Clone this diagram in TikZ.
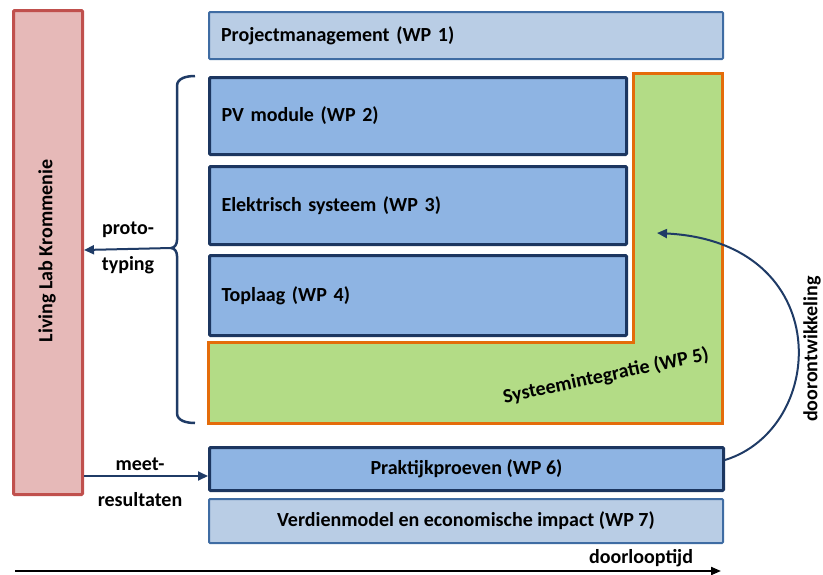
\documentclass[tikz,border=0pt]{standalone}
\usepackage{fontspec}
\setmainfont{Carlito}
\usetikzlibrary{arrows.meta}
\definecolor{labfill}{HTML}{E6B9B8}
\definecolor{labdraw}{HTML}{C0504D}
\definecolor{lightfill}{HTML}{B9CDE5}
\definecolor{lightdraw}{HTML}{3F6CA3}
\definecolor{wpfill}{HTML}{8EB4E3}
\definecolor{wpdraw}{HTML}{1C3660}
\definecolor{intfill}{HTML}{B3DC86}
\definecolor{intdraw}{HTML}{E46C0A}
\definecolor{navy}{HTML}{1F3B66}
\tikzset{
  txt/.style={font=\bfseries\fontsize{20}{22}\selectfont},
  lbl/.style={txt, inner sep=0pt},
  lightbox/.style={txt, draw=lightdraw, fill=lightfill, line width=2pt, rounded corners=1pt,
    anchor=north west},
  wpbox/.style={txt, draw=wpdraw, fill=wpfill, line width=3pt, rounded corners=1pt,
    anchor=north west},
  leftbox/.style={text width=490pt, align=left, inner xsep=12pt, inner ysep=0pt},
  flow/.style={draw=navy, line width=2pt, -{Triangle[length=10pt,width=9pt]}},
}
\begin{document}
\begin{tikzpicture}[x=1pt,y=-1pt]
\useasboundingbox (0,0) rectangle (823,574);

% Living lab column
\node[draw=labdraw, fill=labfill, line width=3pt, rounded corners=1pt, anchor=north west,
  minimum width=69pt, minimum height=484pt, inner sep=0pt] (lab) at (12,9) {};
\node[lbl, rotate=90] (labtxt) at (47,251) {Living Lab Krommenie};

% Work packages
\node[lightbox, leftbox, minimum height=47pt] (wp1) at (208,11) {Projectmanagement (WP 1)};

% System integration (L-shaped)
\draw[draw=intdraw, fill=intfill, line width=3pt]
  (208,342) coordinate (wp5a) -- (633,342) -- (633,73) -- (722,73) -- (722,423) -- (208,423) -- cycle;
\node[lbl, rotate=12] (wp5) at (606,376) {Systeemintegratie (WP 5)};

\node[wpbox, text width=393pt, align=left, inner xsep=12pt, minimum height=77pt] (wp2) at (208,76) {PV module (WP 2)};
\node[wpbox, text width=393pt, align=left, inner xsep=12pt, minimum height=78pt] (wp3) at (208,165) {Elektrisch systeem (WP 3)};
\node[wpbox, text width=393pt, align=left, inner xsep=12pt, minimum height=80pt] (wp4) at (208,254) {Toplaag (WP 4)};

\node[wpbox, minimum width=514pt, minimum height=43pt, inner sep=0pt] (wp6) at (208,446) {Praktijkproeven (WP 6)};
\node[lightbox, minimum width=514pt, minimum height=44pt, inner sep=0pt] (wp7) at (208,498) {Verdienmodel en economische impact (WP 7)};

% Brace around WP 2 to WP 5
\coordinate (btip) at (171,248);
\draw[navy, line width=2.5pt, line join=round]
  (195,76) to[out=180,in=90] (177,86) -- (177,240) to[out=-90,in=0] (btip)
  to[out=0,in=90] (177,256) -- (177,413) to[out=-90,in=180] (195,423);

% Prototyping arrow
\draw[flow] (btip) -- (lab.east |- 0,250);
\node[lbl] (proto1) at (128,230) {proto-};
\node[lbl] (proto2) at (128,265) {typing};

% Measurement results arrow
\draw[flow] (lab.east |- 0,476) -- (wp6.west |- 0,476);
\node[lbl] (meet1) at (140,464) {meet-};
\node[lbl] (meet2) at (140,500) {resultaten};

% Further development loop
\coordinate (loopend) at (657,233);
\draw[flow] (wp6.east |- 0,460) .. controls (828,428) and (836,242) .. (loopend);
\node[lbl, rotate=90] (dev) at (812,349) {doorontwikkeling};

% Time axis
\coordinate (t0) at (15,571);
\coordinate (t1) at (721,571);
\draw[line width=2pt, -{Triangle[length=10pt,width=8pt]}] (t0) -- (t1);
\node[lbl] (time) at (641,558) {doorlooptijd};
\end{tikzpicture}
\end{document}
